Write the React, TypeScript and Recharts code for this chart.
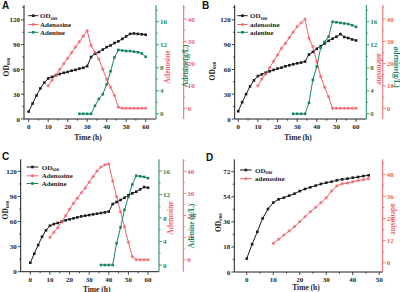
import React from 'react';
import { ComposedChart, Line, XAxis, YAxis } from 'recharts';

const BLACK = '#1c1c1c';
const RED = '#f2606b';
const GREEN = '#16875b';
const SERIF = '"Liberation Serif", "Times New Roman", serif';
const SANS = '"Liberation Sans", Arial, sans-serif';

// ---- panel A ----
const timeA = [0, 2, 4, 6, 8, 10, 12, 14, 16, 18, 20, 22, 24, 26, 28, 30, 32, 34, 36, 38, 40, 42, 44, 46, 48, 50, 52, 54, 56, 58, 60];
const odA = [9, 18.7, 28.4, 37, 44, 49, 51, 53, 54.5, 56, 57, 58.5, 59.5, 61, 62, 64, 75, 79, 81, 84, 87, 89, 92, 94, 97, 100, 103, 103.5, 103, 102.5, 102];
const adenosineTimeA = [10, 12, 14, 16, 18, 20, 22, 24, 26, 28, 30, 32, 34, 36, 38, 40, 42, 44, 46, 48, 50, 52, 54, 56, 58, 60];
const adenosineA = [10.1, 12.6, 15, 17.5, 20, 22.4, 24.9, 27.4, 29.9, 32.3, 34.8, 28.1, 25.1, 22.1, 17.5, 13, 9.4, 5.7, 0.5, 0, 0, 0, 0, 0, 0, 0];
const adenineTimeA = [26, 28, 30, 32, 34, 36, 38, 40, 42, 44, 46, 48, 50, 52, 54, 56, 58, 60];
const adenineA = [0, 0, 0, 0, 1.4, 2.6, 3.4, 5.1, 7.4, 9.8, 11.1, 11, 10.9, 10.9, 10.8, 10.7, 10.5, 9.9];

// ---- panel B ----
const timeB = timeA;
const odB = [9.4, 20.3, 30.1, 39.4, 46.7, 52, 54, 56, 57.7, 59.4, 61, 62.2, 63.8, 65, 66.2, 67.4, 68.3, 69.5, 78, 81.3, 85, 88.2, 91.5, 94.7, 97.2, 99.6, 102.8, 99.2, 98, 96.3, 95.1];
const adenosineTimeB = adenosineTimeA;
const adenosineB = [10.1, 13.1, 15.4, 18.2, 21.1, 23.9, 26.9, 29.1, 31.7, 34.1, 36.6, 38.3, 40, 31.4, 27.6, 20.9, 14.2, 9.4, 5.2, 0, 0, 0, 0, 0, 0, 0];
const adenineTimeB = [28, 30, 32, 34, 36, 38, 40, 42, 44, 46, 48, 50, 52, 54, 56, 58, 60];
const adenineB = [0, 0, 0, 0, 1.9, 5.9, 8.2, 11.5, 12.5, 13.4, 16, 15.9, 15.8, 15.7, 15.6, 15.4, 15.1];

// ---- panel C ----
const timeC = timeA;
const odC = [10.8, 21.5, 31.9, 41.9, 49.5, 55, 57, 58.3, 59.8, 61.5, 62.7, 63.9, 65, 66.2, 67, 67.8, 68.6, 69.4, 70.2, 71, 72, 81, 83.4, 85.8, 88.5, 91.4, 93.8, 95.7, 98.5, 101.3, 100.5];
const adenosineTimeC = adenosineTimeA;
const adenosineC = [10.1, 12.4, 14.5, 17.2, 19.9, 22.8, 25.5, 27.8, 30.3, 32.4, 35, 37.6, 40.1, 41.9, 42.9, 43.3, 35.6, 28.5, 21.7, 14.9, 7.9, 1.4, 0, 0, 0, 0];
const adenineTimeC = [36, 38, 40, 42, 44, 46, 48, 50, 52, 54, 56, 58, 60];
const adenineC = [0, 0, 0, 0, 3.7, 6.4, 9.4, 11.6, 13.7, 15.2, 15.1, 15, 14.8];

// ---- panel D ----
const timeD = [0, 2, 4, 6, 8, 10, 12, 14, 16, 18, 20, 22, 24, 26, 28, 30, 32, 34, 36, 38, 40, 42, 44, 46];
const odD = [9.6, 19.9, 28.9, 38.5, 45.2, 49.8, 52.2, 53.4, 54.8, 56.2, 58.1, 59.6, 60.8, 62, 63.2, 64.1, 64.8, 65.8, 66.5, 67, 67.7, 68.2, 68.9, 69.4];
const adenosineTimeD = [10, 12, 14, 16, 18, 20, 22, 24, 26, 28, 30, 32, 34, 36, 38, 40, 42, 44, 46];
const adenosineD = [10.5, 12.7, 15, 17.2, 19.6, 22.3, 25, 27.7, 30.1, 32.6, 35.3, 39, 41.7, 42.9, 43.3, 44, 44.6, 45.1, 45.7];

const rows = (ts: number[], vs: number[]) => ts.map((t, i) => ({ t, v: vs[i] }));

const tickText = { fontFamily: SERIF, fontSize: 7, fontWeight: 'bold' as const };

const makeTick = (side: 'left' | 'right' | 'bottom', majors: number[], color: string) => (props: any) => {
  const { x, y, payload } = props;
  const v = payload.value;
  const major = majors.includes(v);
  const len = major ? 3 : 1.6;
  if (side === 'bottom') {
    return (
      <g>
        <line x1={x} x2={x} y1={y} y2={y + len} stroke={color} strokeWidth={0.8} />
        {major && (
          <text x={x} y={y + 10} textAnchor="middle" fill={color} {...tickText}>
            {v}
          </text>
        )}
      </g>
    );
  }
  const dir = side === 'left' ? -1 : 1;
  return (
    <g>
      <line x1={x} x2={x + dir * len} y1={y} y2={y} stroke={color} strokeWidth={0.8} />
      {major && (
        <text x={x + dir * 4} y={y + 2.5} textAnchor={side === 'left' ? 'end' : 'start'} fill={color} {...tickText}>
          {v}
        </text>
      )}
    </g>
  );
};

const squareDot = (color: string) => (p: any) => (
  <rect key={`s-${p.index}`} x={p.cx - 1.3} y={p.cy - 1.3} width={2.6} height={2.6} fill={color} />
);

const starDot = (p: any) => (
  <g key={`r-${p.index}`} stroke={RED} strokeWidth={0.7}>
    <line x1={p.cx - 1.7} x2={p.cx + 1.7} y1={p.cy} y2={p.cy} />
    <line x1={p.cx} x2={p.cx} y1={p.cy - 1.7} y2={p.cy + 1.7} />
    <line x1={p.cx - 1.2} x2={p.cx + 1.2} y1={p.cy - 1.2} y2={p.cy + 1.2} />
    <line x1={p.cx - 1.2} x2={p.cx + 1.2} y1={p.cy + 1.2} y2={p.cy - 1.2} />
  </g>
);

type Axis = { domain: [number, number]; major: number[]; minor: number[] };
type Title = { text: string; x: number; y: number; rot: number; color: string; od?: boolean };

type PanelProps = {
  left: number;
  top: number;
  height: number;
  letter: { text: string; x: number; y: number };
  plotLeft: number;
  plotRight: number;
  plotTop: number;
  plotBottom: number;
  greenX?: number;
  x: Axis;
  od: Axis;
  red: Axis;
  green?: Axis;
  od600: { t: number; v: number }[];
  adenosine: { t: number; v: number }[];
  adenine?: { t: number; v: number }[];
  titles: Title[];
  legend: { x1: number; x2: number; tx: number; ys: number[]; names: string[] };
};

const Panel = (p: PanelProps) => {
  const redWidth = p.greenX ? p.greenX - p.plotRight : 200 - p.plotRight;
  const legendItems = [
    { color: BLACK, dot: 'sq' },
    { color: RED, dot: 'star' },
    { color: GREEN, dot: 'sq' },
  ];
  return (
    <div style={{ position: 'absolute', left: p.left, top: p.top, width: 200, height: p.height }}>
      <ComposedChart width={200} height={p.height} margin={{ top: p.plotTop, right: 0, bottom: 0, left: 0 }}>
        <XAxis
          type="number"
          dataKey="t"
          domain={p.x.domain}
          ticks={[...p.x.major, ...p.x.minor]}
          interval={0}
          allowDataOverflow
          height={p.height - p.plotBottom}
          tickSize={0}
          tickMargin={0}
          stroke={BLACK}
          tick={makeTick('bottom', p.x.major, BLACK)}
        />
        <YAxis
          yAxisId="od"
          orientation="left"
          width={p.plotLeft}
          domain={p.od.domain}
          ticks={[...p.od.major, ...p.od.minor]}
          interval={0}
          allowDataOverflow
          tickSize={0}
          tickMargin={0}
          stroke={BLACK}
          tick={makeTick('left', p.od.major, BLACK)}
        />
        <YAxis
          yAxisId="red"
          orientation="right"
          width={redWidth}
          domain={p.red.domain}
          ticks={[...p.red.major, ...p.red.minor]}
          interval={0}
          allowDataOverflow
          tickSize={0}
          tickMargin={0}
          stroke={RED}
          tick={makeTick('right', p.red.major, RED)}
        />
        {p.green && p.greenX && (
          <YAxis
            yAxisId="green"
            orientation="right"
            width={200 - p.greenX}
            domain={p.green.domain}
            ticks={[...p.green.major, ...p.green.minor]}
            interval={0}
            allowDataOverflow
            tickSize={0}
            tickMargin={0}
            stroke={GREEN}
            tick={makeTick('right', p.green.major, GREEN)}
          />
        )}
        <Line
          yAxisId="od"
          data={p.od600}
          dataKey="v"
          name="OD600"
          stroke={BLACK}
          strokeWidth={1}
          dot={squareDot(BLACK)}
          isAnimationActive={false}
        />
        <Line
          yAxisId="red"
          data={p.adenosine}
          dataKey="v"
          name="Adenosine"
          stroke={RED}
          strokeWidth={1}
          dot={starDot}
          isAnimationActive={false}
        />
        {p.adenine && (
          <Line
            yAxisId="green"
            data={p.adenine}
            dataKey="v"
            name="Adenine"
            stroke={GREEN}
            strokeWidth={1}
            dot={squareDot(GREEN)}
            isAnimationActive={false}
          />
        )}
      </ComposedChart>
      <svg width={200} height={p.height} style={{ position: 'absolute', left: 0, top: 0, pointerEvents: 'none' }}>
        <text x={p.letter.x} y={p.letter.y} fontFamily={SANS} fontWeight="bold" fontSize={10} fill="#111">
          {p.letter.text}
        </text>
        {p.titles.map((t, i) => (
          <text
            key={i}
            transform={`translate(${t.x},${t.y}) rotate(${t.rot})`}
            textAnchor="middle"
            dominantBaseline="central"
            fontFamily={SERIF}
            fontWeight="bold"
            fontSize={7.5}
            fill={t.color}
          >
            {t.od ? (
              <>
                <tspan>OD</tspan>
                <tspan fontSize={5} dy={2}>600</tspan>
              </>
            ) : (
              t.text
            )}
          </text>
        ))}
        {p.legend.names.map((name, i) => {
          const it = legendItems[i];
          const y = p.legend.ys[i];
          const mx = (p.legend.x1 + p.legend.x2) / 2;
          return (
            <g key={name}>
              <line x1={p.legend.x1} x2={p.legend.x2} y1={y} y2={y} stroke={it.color} strokeWidth={1} />
              {it.dot === 'sq' ? squareDot(it.color)({ cx: mx, cy: y, index: i }) : starDot({ cx: mx, cy: y, index: i })}
              <text x={p.legend.tx} y={y + 2.5} fontFamily={SERIF} fontWeight="bold" fontSize={7} fill={BLACK}>
                {i === 0 ? (
                  <>
                    <tspan>OD</tspan>
                    <tspan fontSize={4.5} dy={1.8}>600</tspan>
                  </>
                ) : (
                  name
                )}
              </text>
            </g>
          );
        })}
      </svg>
    </div>
  );
};

const xTicks60: Axis = { domain: [0, 0], major: [0, 10, 20, 30, 40, 50, 60], minor: [5, 15, 25, 35, 45, 55] };
const odAxis = { major: [0, 30, 60, 90, 120], minor: [15, 45, 75, 105] };
const redAxis = { major: [0, 10, 20, 30, 40], minor: [5, 15, 25, 35, 45] };
const greenAxis = { major: [0, 4, 8, 12, 16], minor: [2, 6, 10, 14, 18] };

export default function App() {
  return (
    <div style={{ position: 'absolute', left: 0, top: 0, width: 400, height: 292, background: '#fff', overflow: 'hidden' }}>
      <Panel
        left={0}
        top={0}
        height={146}
        letter={{ text: 'A', x: 2, y: 9 }}
        plotLeft={24}
        plotRight={156}
        plotTop={5}
        plotBottom={119}
        greenX={172.3}
        x={{ ...xTicks60, domain: [-2.4, 65.3] }}
        od={{ ...odAxis, minor: [15, 45, 75, 105, 135], domain: [0, 138] }}
        red={{ ...redAxis, domain: [-4.8, 46.3] }}
        green={{ ...greenAxis, domain: [-0.9, 18.9] }}
        od600={rows(timeA, odA)}
        adenosine={rows(adenosineTimeA, adenosineA)}
        adenine={rows(adenineTimeA, adenineA)}
        titles={[
          { text: 'OD600', x: 6, y: 67, rot: -90, color: BLACK, od: true },
          { text: 'Adenosine', x: 167.7, y: 67, rot: -90, color: RED },
          { text: 'Adenine(g/L)', x: 185, y: 66, rot: -90, color: GREEN },
          { text: 'Time (h)', x: 88, y: 137, rot: 0, color: BLACK },
        ]}
        legend={{ x1: 28.3, x2: 38.3, tx: 40, ys: [15.7, 24.5, 32.3], names: ['OD600', 'Adenosine', 'Adenine'] }}
      />
      <Panel
        left={200}
        top={0}
        height={146}
        letter={{ text: 'B', x: 2, y: 9 }}
        plotLeft={34.7}
        plotRight={166.3}
        plotTop={5}
        plotBottom={119}
        greenX={183.5}
        x={{ ...xTicks60, domain: [-1.8, 65.2] }}
        od={{ ...odAxis, minor: [15, 45, 75, 105, 135], domain: [0, 138] }}
        red={{ ...redAxis, domain: [-4.8, 46.3] }}
        green={{ ...greenAxis, domain: [-0.9, 18.9] }}
        od600={rows(timeB, odB)}
        adenosine={rows(adenosineTimeB, adenosineB)}
        adenine={rows(adenineTimeB, adenineB)}
        titles={[
          { text: 'OD600', x: 11.7, y: 71, rot: -90, color: BLACK, od: true },
          { text: 'adenosine', x: 179.3, y: 69, rot: 90, color: RED },
          { text: 'adenine(g/L)', x: 196.5, y: 67, rot: 90, color: GREEN },
          { text: 'Time (h)', x: 98, y: 137, rot: 0, color: BLACK },
        ]}
        legend={{ x1: 37.3, x2: 47.7, tx: 50, ys: [15.7, 24.5, 32.3], names: ['OD600', 'adenosine', 'adenine'] }}
      />
      <Panel
        left={0}
        top={146}
        height={146}
        letter={{ text: 'C', x: 2, y: 14 }}
        plotLeft={20.7}
        plotRight={159}
        plotTop={13.3}
        plotBottom={125.7}
        greenX={175.7}
        x={{ ...xTicks60, domain: [-4.9, 65.6] }}
        od={{ ...odAxis, domain: [0, 134.5] }}
        red={{ ...redAxis, domain: [-5.4, 45.4] }}
        green={{ ...greenAxis, minor: [2, 6, 10, 14], domain: [-1.14, 18] }}
        od600={rows(timeC, odC)}
        adenosine={rows(adenosineTimeC, adenosineC)}
        adenine={rows(adenineTimeC, adenineC)}
        titles={[
          { text: 'OD600', x: 5, y: 64, rot: -90, color: BLACK, od: true },
          { text: 'Adenosine', x: 170, y: 72, rot: -90, color: RED },
          { text: 'Adenine (g/L)', x: 191.7, y: 80, rot: -90, color: GREEN },
          { text: 'Time (h)', x: 96.7, y: 143, rot: 0, color: BLACK },
        ]}
        legend={{ x1: 26.7, x2: 38.3, tx: 41.7, ys: [21, 29.8, 37.5], names: ['OD600', 'Adenosine', 'Adenine'] }}
      />
      <Panel
        left={200}
        top={146}
        height={146}
        letter={{ text: 'D', x: 6, y: 15 }}
        plotLeft={34.3}
        plotRight={182.7}
        plotTop={13.3}
        plotBottom={126}
        x={{ domain: [-4.7, 51.3], major: [0, 10, 20, 30, 40, 50], minor: [5, 15, 25, 35, 45] }}
        od={{ domain: [0, 80.9], major: [0, 18, 36, 54, 72], minor: [9, 27, 45, 63] }}
        red={{ domain: [-5.05, 56.2], major: [0, 12, 24, 36, 48], minor: [6, 18, 30, 42, 54] }}
        od600={rows(timeD, odD)}
        adenosine={rows(adenosineTimeD, adenosineD)}
        titles={[
          { text: 'OD600', x: 18.3, y: 76.7, rot: -90, color: BLACK, od: true },
          { text: 'adenosine', x: 193.3, y: 73, rot: 90, color: RED },
          { text: 'Time (h)', x: 106, y: 141.7, rot: 0, color: BLACK },
        ]}
        legend={{ x1: 40, x2: 51.7, tx: 55, ys: [24, 32.7], names: ['OD600', 'adenosine'] }}
      />
    </div>
  );
}
